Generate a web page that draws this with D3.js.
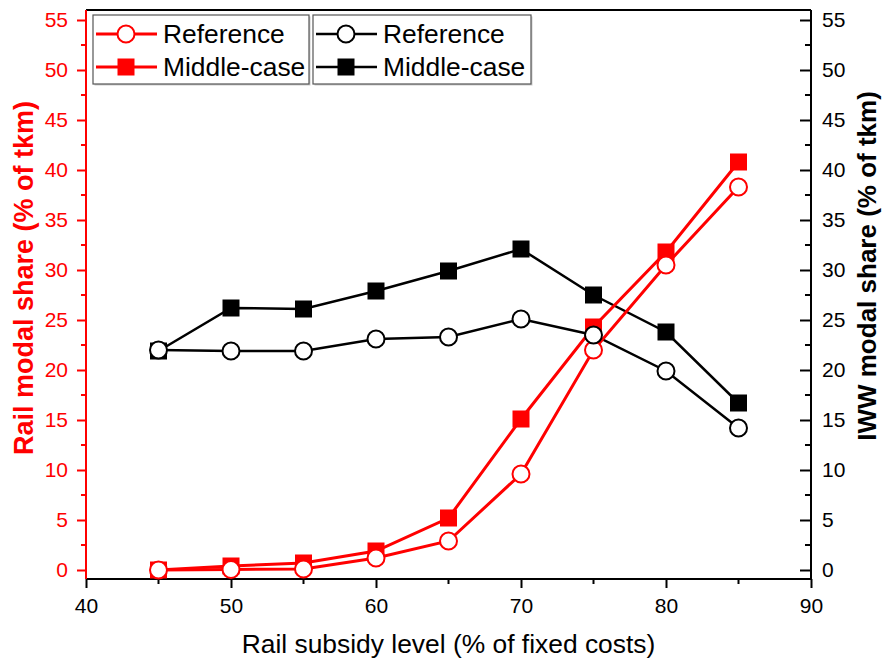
<!DOCTYPE html>
<html>
<head>
<meta charset="utf-8">
<script src="https://cdn.jsdelivr.net/npm/d3@7"></script>
<style>
  body { margin: 0; background: #fff; }
  svg { display: block; font-family: "Liberation Sans", Arial, sans-serif; }
</style>
</head>
<body>
<div id="chart"></div>
<script>
// x 值：铁路补贴水平
const subsidy = [45, 50, 55, 60, 65, 70, 75, 80, 85];
// 铁路份额 (左轴, 红色)
const railReference = [0, 0.05, 0.1, 1.2, 2.9, 9.6, 22.0, 30.5, 38.3];
const railMiddle = [0, 0.4, 0.7, 1.9, 5.2, 15.1, 24.3, 31.8, 40.8];
// 内河份额 (右轴, 黑色)
const iwwReference = [22.0, 21.9, 21.9, 23.1, 23.3, 25.1, 23.5, 19.9, 14.2];
const iwwMiddle = [21.9, 26.2, 26.1, 27.9, 29.9, 32.1, 27.5, 23.8, 16.7];

const xTicks = [40, 50, 60, 70, 80, 90];
const yTicks = [0, 5, 10, 15, 20, 25, 30, 35, 40, 45, 50, 55];

const width = 883, height = 661;
const margin = { left: 86, right: 72, top: 10, bottom: 82 };
const RED = "#ff0000", BLACK = "#000";

const svg = d3.select("#chart").append("svg")
    .attr("width", width).attr("height", height);

const x = d3.scaleLinear().domain([40, 90]).range([margin.left, width - margin.right]);
const y = d3.scaleLinear().domain([-0.9, 56]).range([height - margin.bottom, margin.top]);

// 顶部边框
svg.append("line")
    .attr("x1", x(40)).attr("x2", x(90))
    .attr("y1", margin.top).attr("y2", margin.top)
    .attr("stroke", BLACK).attr("stroke-width", 2);

// 次刻度
const minorX = d3.range(45, 90, 10);
const minorY = d3.range(2.5, 56, 5);

// 底部 x 轴
const gx = svg.append("g").attr("transform", `translate(0,${y(-0.9)})`);
gx.call(d3.axisBottom(x).tickValues(xTicks).tickSize(9).tickPadding(10));
gx.selectAll(".minor").data(minorX).enter().append("line")
    .attr("x1", d => x(d)).attr("x2", d => x(d)).attr("y1", 0).attr("y2", 5)
    .attr("stroke", BLACK).attr("stroke-width", 2);

// 左 y 轴 (红)
const gl = svg.append("g").attr("transform", `translate(${margin.left},0)`);
gl.call(d3.axisLeft(y).tickValues(yTicks).tickSize(9).tickPadding(9));
gl.selectAll(".minor").data(minorY).enter().append("line")
    .attr("x1", 0).attr("x2", -5).attr("y1", d => y(d)).attr("y2", d => y(d))
    .attr("stroke", RED).attr("stroke-width", 2);

// 右 y 轴 (黑, 刻度朝内)
const gr = svg.append("g").attr("transform", `translate(${width - margin.right},0)`);
gr.call(d3.axisRight(y).tickValues(yTicks).tickSize(-11).tickPadding(22));
gr.selectAll(".minor").data(minorY).enter().append("line")
    .attr("x1", 0).attr("x2", -6).attr("y1", d => y(d)).attr("y2", d => y(d))
    .attr("stroke", BLACK).attr("stroke-width", 2);

[gx, gl, gr].forEach(g => {
    g.selectAll("text").attr("font-size", 21).attr("font-family", "Liberation Sans, Arial, sans-serif");
    g.selectAll(".domain, .tick line").attr("stroke-width", 2);
});
gx.select(".domain").attr("d", `M${x(40)},0H${x(90)}`);
gl.select(".domain").attr("d", `M0,${y(-0.9)}V${y(56)}`).attr("stroke", RED);
gl.selectAll(".tick line").attr("stroke", RED);
gl.selectAll("text").attr("fill", RED);
gr.select(".domain").attr("d", `M0,${y(-0.9)}V${y(56)}`);
gr.selectAll("text").attr("text-anchor", "start").attr("dx", "-11px");

// 坐标轴标题
svg.append("text")
    .attr("x", (x(40) + x(90)) / 2).attr("y", 653)
    .attr("text-anchor", "middle").attr("font-size", 26.4)
    .text("Rail subsidy level (% of fixed costs)");
svg.append("text")
    .attr("transform", `translate(33,278) rotate(-90)`)
    .attr("text-anchor", "middle").attr("font-size", 27).attr("font-weight", "bold")
    .attr("fill", RED)
    .text("Rail modal share (% of tkm)");
svg.append("text")
    .attr("transform", `translate(876,266) rotate(-90)`)
    .attr("text-anchor", "middle").attr("font-size", 26).attr("font-weight", "bold")
    .text("IWW modal share (% of tkm)");

// 系列
const series = [
    { values: iwwMiddle, color: BLACK, shape: "square", width: 2.5 },
    { values: iwwReference, color: BLACK, shape: "circle", width: 2.5 },
    { values: railMiddle, color: RED, shape: "square", width: 3 },
    { values: railReference, color: RED, shape: "circle", width: 3 }
];

const line = d3.line().x(d => x(d[0])).y(d => y(d[1]));

function drawMarker(g, cx, cy, s) {
    if (s.shape === "circle") {
        g.append("circle").attr("cx", cx).attr("cy", cy).attr("r", 8.5)
            .attr("fill", "#fff").attr("stroke", s.color).attr("stroke-width", 2);
    } else {
        g.append("rect").attr("x", cx - 8.5).attr("y", cy - 8.5)
            .attr("width", 17).attr("height", 17).attr("fill", s.color);
    }
}

// 先画线 (黑在下, 红在上), 再画标记 (红在下, 黑在上)
const lineLayer = svg.append("g");
const markRed = svg.append("g");
const markBlack = svg.append("g");
series.forEach(s => {
    const pts = subsidy.map((v, i) => [v, s.values[i]]);
    lineLayer.append("path").datum(pts).attr("d", line)
        .attr("fill", "none").attr("stroke", s.color).attr("stroke-width", s.width);
    const layer = s.color === RED ? markRed : markBlack;
    pts.forEach(p => drawMarker(layer, x(p[0]), y(p[1]), s));
});

// 图例
const legends = [
    { x0: 93, x1: 309, color: RED, w: 3 },
    { x0: 313, x1: 531, color: BLACK, w: 2.5 }
];
legends.forEach(L => {
    const g = svg.append("g");
    g.append("rect").attr("x", L.x0 + 1.5).attr("y", 16.5)
        .attr("width", L.x1 - L.x0).attr("height", 69).attr("fill", "#ccc");
    g.append("rect").attr("x", L.x0).attr("y", 15)
        .attr("width", L.x1 - L.x0).attr("height", 69)
        .attr("fill", "#fff").attr("stroke", "#555").attr("stroke-width", 1.2);
    [["Reference", "circle", 34], ["Middle-case", "square", 67]].forEach(([label, shape, cy]) => {
        g.append("line").attr("x1", L.x0 + 3).attr("x2", L.x0 + 64)
            .attr("y1", cy).attr("y2", cy).attr("stroke", L.color).attr("stroke-width", L.w);
        drawMarker(g, L.x0 + 33, cy, { shape: shape, color: L.color });
        g.append("text").attr("x", L.x0 + 70).attr("y", cy + 9)
            .attr("font-size", 26.4).text(label);
    });
});
</script>
</body>
</html>
